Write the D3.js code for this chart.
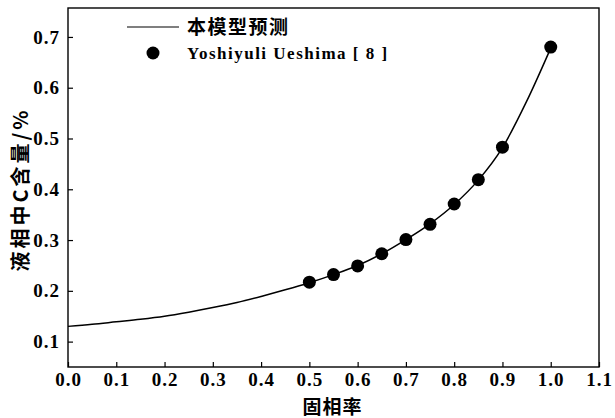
<!DOCTYPE html>
<html>
<head>
<meta charset="utf-8">
<script src="https://cdn.jsdelivr.net/npm/d3@7"></script>
<style>
  html, body { margin: 0; padding: 0; background: #fff; }
  svg { display: block; }
</style>
</head>
<body>
<svg id="chart" width="615" height="418"></svg>
<script>
// Model prediction: liquid-phase carbon content vs. solid fraction
const modelFs = [0.00, 0.05, 0.10, 0.15, 0.20, 0.25, 0.30, 0.35, 0.40, 0.45, 0.50, 0.55, 0.60, 0.65, 0.70, 0.75, 0.80, 0.85, 0.90, 0.95, 1.00];
const modelC  = [0.130, 0.134, 0.139, 0.144, 0.150, 0.158, 0.167, 0.177, 0.189, 0.202, 0.216, 0.232, 0.250, 0.273, 0.301, 0.332, 0.370, 0.418, 0.482, 0.573, 0.678];

// Measured data (Yoshiyuli Ueshima [8])
const expFs = [0.50, 0.55, 0.60, 0.65, 0.70, 0.75, 0.80, 0.85, 0.90, 1.00];
const expC  = [0.217, 0.232, 0.249, 0.273, 0.301, 0.331, 0.371, 0.419, 0.483, 0.680];

const xTicks = [0.0, 0.1, 0.2, 0.3, 0.4, 0.5, 0.6, 0.7, 0.8, 0.9, 1.0, 1.1];
const yTicks = [0.1, 0.2, 0.3, 0.4, 0.5, 0.6, 0.7];

const legendLabels = ["本模型预测", "Yoshiyuli Ueshima [ 8 ]"];
const xTitle = "固相率";
const yTitle = "液相中C含量/%";

const svg = d3.select("#chart");
const W = 615, H = 418;
const m = { left: 68, right: 16, top: 8, bottom: 51 };
const pw = W - m.left - m.right, ph = H - m.top - m.bottom;

const x = d3.scaleLinear().domain([0, 1.1]).range([m.left, m.left + pw]);
const y = d3.scaleLinear().domain([0.05, 0.757]).range([m.top + ph, m.top]);

const serif = "'Liberation Serif', 'DejaVu Serif', serif";
const cjk = "'Noto Sans CJK SC', sans-serif";

// Axes with inward ticks
const xAxis = d3.axisBottom(x).tickValues(xTicks).tickFormat(d3.format(".1f"))
  .tickSizeInner(-5).tickSizeOuter(0).tickPadding(6);
const yAxis = d3.axisLeft(y).tickValues(yTicks).tickFormat(d3.format(".1f"))
  .tickSizeInner(-5).tickSizeOuter(0).tickPadding(8);

const gx = svg.append("g").attr("transform", `translate(0,${m.top + ph})`).call(xAxis);
const gy = svg.append("g").attr("transform", `translate(${m.left},0)`).call(yAxis);
[gx, gy].forEach(g => {
  g.select(".domain").remove();
  g.selectAll(".tick line").attr("stroke", "#000").attr("stroke-width", 1.2);
  g.selectAll(".tick text")
    .attr("fill", "#000")
    .style("font-family", serif)
    .style("font-size", "19px")
    .style("font-weight", "bold")
    .style("letter-spacing", "1px");
});

// Plot frame
svg.append("rect")
  .attr("x", m.left).attr("y", m.top)
  .attr("width", pw).attr("height", ph)
  .attr("fill", "none").attr("stroke", "#000").attr("stroke-width", 1.4);

// Model curve
const line = d3.line()
  .x((d, i) => x(modelFs[i]))
  .y((d, i) => y(modelC[i]))
  .curve(d3.curveMonotoneX);
svg.append("path")
  .datum(modelC)
  .attr("d", line)
  .attr("fill", "none")
  .attr("stroke", "#000")
  .attr("stroke-width", 1.5);

// Measured points
svg.append("g").selectAll("circle")
  .data(expC)
  .join("circle")
  .attr("cx", (d, i) => x(expFs[i]))
  .attr("cy", d => y(d))
  .attr("r", 6.5)
  .attr("fill", "#000");

// Legend
const lg = svg.append("g");
lg.append("line")
  .attr("x1", 127).attr("x2", 179).attr("y1", 27).attr("y2", 27)
  .attr("stroke", "#000").attr("stroke-width", 1.2);
lg.append("text")
  .attr("x", 187).attr("y", 27).attr("dy", "0.35em")
  .style("font-family", cjk).style("font-size", "19px").style("font-weight", "bold")
  .style("letter-spacing", "1.5px")
  .text(legendLabels[0]);
lg.append("circle").attr("cx", 153).attr("cy", 53).attr("r", 6.5).attr("fill", "#000");
lg.append("text")
  .attr("x", 187).attr("y", 53).attr("dy", "0.35em")
  .style("font-family", serif).style("font-size", "17px").style("font-weight", "bold")
  .style("letter-spacing", "1.5px")
  .text(legendLabels[1]);

// Axis titles
svg.append("text")
  .attr("x", m.left + pw / 2 - 1).attr("y", 407)
  .attr("text-anchor", "middle").attr("dy", "0.35em")
  .style("font-family", cjk).style("font-size", "19px").style("font-weight", "bold")
  .style("letter-spacing", "1px")
  .text(xTitle);
svg.append("text")
  .attr("transform", `translate(21,${m.top + ph / 2 + 2}) rotate(-90)`)
  .attr("text-anchor", "middle").attr("dy", "0.35em")
  .style("font-family", cjk).style("font-size", "20px").style("font-weight", "bold")
  .style("letter-spacing", "3px")
  .text(yTitle);
</script>
</body>
</html>
